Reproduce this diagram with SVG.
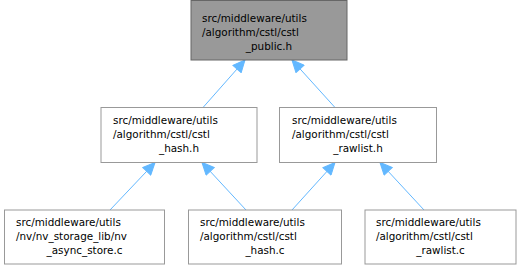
<svg xmlns="http://www.w3.org/2000/svg" width="530" height="271" viewBox="0 0 530 271">
<style>
.box{fill:#ffffff;stroke:#999999;stroke-width:1}
.hl{fill:#999999;stroke:#666666;stroke-width:1}
text{font-family:"DejaVu Sans",sans-serif;font-size:10.4px;fill:#000000}
.c{text-anchor:middle}
.edge{fill:none;stroke:#63b8ff;stroke-width:1;marker-start:url(#arr)}
</style>
<defs>
<marker id="arr" markerUnits="userSpaceOnUse" viewBox="-13 -6 14 12" markerWidth="14" markerHeight="12" refX="0" refY="0" orient="auto-start-reverse">
<polygon points="0,0 -12,-5.5 -12,5.5" fill="#63b8ff" stroke="#63b8ff" stroke-width="1"/>
</marker>
</defs>
<rect width="530" height="271" fill="#ffffff"/>
<g id="edges">
<path class="edge" d="M245,60 L203,107.5"/>
<path class="edge" d="M292,60 L335,107.5"/>
<path class="edge" d="M155,162.5 L110,210"/>
<path class="edge" d="M202,162.5 L246,210"/>
<path class="edge" d="M335,162.5 L292,210"/>
<path class="edge" d="M380,162.5 L424,210"/>
</g>
<g id="node_public_h">
<rect class="hl" x="191" y="0.5" width="156" height="59.5"/>
<text x="202" y="21.5">src/middleware/utils</text>
<text x="202" y="35.7">/algorithm/cstl/cstl</text>
<text class="c" x="269" y="50">_public.h</text>
</g>
<g id="node_hash_h">
<rect class="box" x="101" y="107.5" width="156" height="55"/>
<text x="113" y="123.5">src/middleware/utils</text>
<text x="113" y="137.7">/algorithm/cstl/cstl</text>
<text class="c" x="179" y="152">_hash.h</text>
</g>
<g id="node_rawlist_h">
<rect class="box" x="279.5" y="107.5" width="157" height="55"/>
<text x="292" y="123.5">src/middleware/utils</text>
<text x="292" y="137.7">/algorithm/cstl/cstl</text>
<text class="c" x="358" y="152">_rawlist.h</text>
</g>
<g id="node_nv_async_store_c">
<rect class="box" x="4.5" y="210" width="160" height="54"/>
<text x="16" y="226">src/middleware/utils</text>
<text x="16" y="240.3">/nv/nv_storage_lib/nv</text>
<text class="c" x="84.5" y="254.3">_async_store.c</text>
</g>
<g id="node_hash_c">
<rect class="box" x="188.5" y="210" width="153" height="54"/>
<text x="200" y="226">src/middleware/utils</text>
<text x="200" y="240.3">/algorithm/cstl/cstl</text>
<text class="c" x="265" y="254.3">_hash.c</text>
</g>
<g id="node_rawlist_c">
<rect class="box" x="365" y="210" width="151" height="54"/>
<text x="376" y="226">src/middleware/utils</text>
<text x="376" y="240.3">/algorithm/cstl/cstl</text>
<text class="c" x="440.5" y="254.3">_rawlist.c</text>
</g>
</svg>
